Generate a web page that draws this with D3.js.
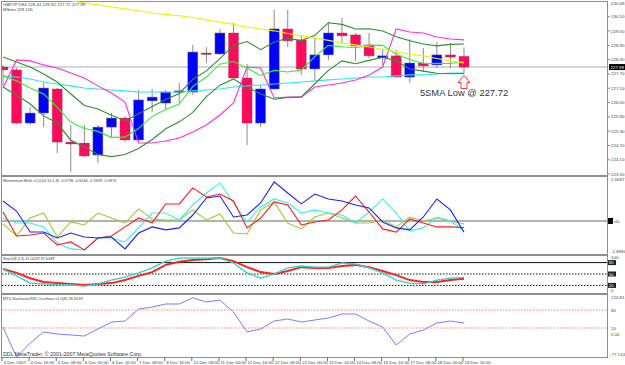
<!DOCTYPE html>
<html>
<head>
<meta charset="utf-8">
<script src="https://cdnjs.cloudflare.com/ajax/libs/d3/7.8.5/d3.min.js"></script>
<style>
body { margin: 0; background: #fff; }
svg { display: block; }
text { font-family: "Liberation Sans", Arial, sans-serif; }
</style>
</head>
<body>
<svg></svg>
<script>
// GBPJPY H4 candles
var open  = [227.99,227.87,225.64,226.06,227.07,224.84,224.80,224.30,225.47,225.85,224.93,226.57,226.48,226.94,226.94,228.58,228.54,229.42,227.53,225.64,227.07,229.59,229.13,227.91,228.50,229.42,229.34,228.92,228.37,228.46,227.57,228.16,228.08,228.50,228.44];
var high  = [228.08,227.95,226.31,227.36,227.11,225.56,225.56,225.56,226.06,225.94,227.03,227.07,227.03,227.32,228.92,228.83,229.59,229.84,228.12,227.24,230.39,230.39,229.34,229.25,229.88,230.05,229.42,229.42,228.71,228.71,229.17,228.79,229.04,229.00,228.82];
var low   = [227.20,225.60,225.56,225.47,224.38,223.58,224.21,223.96,225.01,224.84,224.84,226.10,226.19,226.48,226.82,228.16,228.50,227.49,224.72,225.47,227.03,228.83,227.66,227.45,228.29,229.00,228.25,228.37,228.08,227.53,227.32,227.78,227.95,227.95,227.72];
var close = [227.87,225.64,226.06,227.11,224.84,224.76,224.26,225.47,225.85,224.93,226.61,226.73,226.94,226.99,228.62,228.56,229.42,227.53,225.64,227.07,229.59,229.09,227.91,228.50,229.42,229.30,228.88,228.46,228.46,227.57,228.16,228.04,228.50,228.41,227.99];

// overlay lines on the price pane
var smaHigh  = [228.41,228.20,227.99,227.70,227.36,226.86,226.38,226.23,225.97,225.74,226.03,226.33,226.63,226.88,227.47,227.83,228.34,228.90,229.06,228.72,229.04,229.20,229.10,229.32,229.85,229.78,229.59,229.60,229.50,229.26,229.09,228.96,228.88,228.94,228.96];
var smaClose = [227.62,227.41,227.11,226.86,226.30,225.68,225.41,225.29,225.04,225.05,225.42,225.92,226.21,226.44,227.18,227.57,228.11,228.22,227.95,227.64,227.85,227.78,227.86,228.43,228.90,228.84,228.80,228.91,228.90,228.53,228.31,228.14,228.15,228.14,228.22];
var smaLow   = [227.15,226.82,226.44,225.94,225.64,224.92,224.64,224.32,224.23,224.32,224.57,224.95,225.40,225.69,226.09,226.75,227.23,227.49,227.14,226.87,226.64,226.71,226.74,227.29,227.85,228.25,228.13,228.27,228.40,228.25,227.91,227.82,227.73,227.71,227.72];
var magentaLine = [227.11,228.29,228.25,228.08,227.95,227.74,227.53,227.20,226.90,226.52,224.80,224.80,224.89,225.01,225.26,225.56,225.98,226.48,227.99,227.95,226.69,226.73,226.73,227.15,227.24,227.32,227.45,227.66,227.99,229.59,229.46,229.42,229.25,229.17,229.13];
var cyanLine = [227.62,227.57,227.49,227.36,227.28,227.20,227.11,227.07,227.03,226.99,226.94,226.94,226.94,226.94,226.99,227.03,227.07,227.15,227.20,227.24,227.28,227.32,227.36,227.41,227.45,227.49,227.53,227.57,227.57,227.62,227.66,227.66,227.70,227.74,227.74];
var yellowLine = [null,null,null,null,null,230.77,230.68,230.60,230.51,230.43,230.35,230.26,230.20,230.14,230.07,229.97,229.88,229.78,229.67,229.59,229.51,229.40,229.30,229.21,229.11,229.00,228.92,228.83,228.73,228.62,228.54,228.46,228.35,228.25,228.16];

// Momentum-Multi pane
var momBlue   = [1.21,0.60,-0.67,-0.67,-1.03,-0.73,-0.97,-1.03,-0.97,-1.69,-0.73,-0.36,-0.54,-0.42,0.36,1.39,1.51,0.24,0.36,1.09,2.36,1.69,1.03,1.63,1.33,1.21,0.97,0.79,-0.06,-0.42,-0.54,0.24,1.33,0.67,-0.68];
var momRed    = [0.54,-0.91,-0.85,-0.73,-1.45,-1.27,-1.75,-1.03,-0.91,-0.36,0.18,-0.12,1.03,1.03,2.00,1.45,1.63,1.21,-0.42,0.18,1.15,0.97,-0.24,-0.06,0.06,0.67,1.51,0.54,-0.48,-0.67,0.12,-0.12,-0.36,-0.36,-0.40];
var momCyan   = [0.18,-0.12,-0.12,-0.36,-1.33,-1.69,-1.75,-1.03,-1.03,-1.27,-0.42,0.48,0.48,0.06,0.97,1.69,2.30,1.09,-0.06,0.85,1.33,1.09,0.48,0.67,0.48,0.36,-0.12,0.54,1.33,0.48,-0.60,-0.42,0.24,0.00,-0.60];
var momYellow = [-0.18,-0.91,0.18,0.48,-0.97,-0.06,-0.24,0.48,0.18,-0.12,0.73,0.12,0.06,0.06,0.67,0.06,0.42,-0.73,-0.79,0.67,1.15,-0.12,-0.48,0.24,0.48,0.18,-0.12,-0.12,0.06,-0.36,0.24,0.00,0.18,0.00,-0.18];

// Stoch(8,3,3)
var stochMain   = [63,45,26,24,22,21,18,24,34,42,53,66,84,92,92,92,92,79,53,39,50,66,71,68,68,79,76,66,53,34,26,24,34,39,41.00];
var stochSignal = [63,53,39,29,26,24,21,24,26,34,45,55,74,82,87,89,92,84,68,55,50,58,68,66,66,71,74,68,58,47,34,29,29,34,37.65];

// MT4-StochasticRSI-Oscillator
var stochRsi = [23.3,-77.12,-30.0,6.7,0.0,-3.3,-6.7,16.7,40.0,43.3,83.3,90.0,100.0,100.0,120.81,106.7,113.3,73.3,6.7,16.7,43.3,50.0,40.0,46.7,53.3,66.7,66.7,43.3,23.3,-36.7,0.0,13.3,36.7,43.3,36.81];

// axis labels
var priceTicks = [230.10,229.50,228.90,228.30,227.70,227.10,226.50,225.90,225.30,224.70,224.10,223.50];
var timeLabels = ["4 Dec 2007","4 Dec 16:00","5 Dec 08:00","6 Dec 00:00","6 Dec 16:00","7 Dec 08:00","9 Dec 16:00","10 Dec 08:00","11 Dec 00:00","11 Dec 16:00","12 Dec 08:00","13 Dec 00:00","13 Dec 16:00","14 Dec 08:00","16 Dec 16:00","17 Dec 08:00","18 Dec 00:00","18 Dec 16:00"];

var svg = d3.select("svg").attr("width", 625).attr("height", 365);

var left = 2, right = 607;
var x = d3.scaleLinear().domain([0, close.length - 1]).range([3, 464]);
var yMain = d3.scaleLinear().domain([223.46, 230.72]).range([175, 2]);
var yMom = d3.scaleLinear().domain([-1.9984, 2.6587]).range([254, 177]);
var ySto = d3.scaleLinear().domain([0, 100]).range([293, 255]);
var yRsi = d3.scaleLinear().domain([0, 80]).range([334, 310]);

var panes = [
    {id: "main", top: 1, bottom: 175.5},
    {id: "mom", top: 176.5, bottom: 254.5},
    {id: "sto", top: 255.5, bottom: 293.5},
    {id: "rsi", top: 294.5, bottom: 357.5}
];

var defs = svg.append("defs");
panes.forEach(function(p) {
    defs.append("clipPath").attr("id", "clip-" + p.id)
        .append("rect")
        .attr("x", left).attr("y", p.top)
        .attr("width", right - left).attr("height", p.bottom - p.top);
});

// pane frames
svg.selectAll("rect.frame")
    .data(panes)
    .enter()
    .append("rect")
    .attr("class", "frame")
    .attr("x", 1.5)
    .attr("y", function(p) { return p.top; })
    .attr("width", right - 1.5)
    .attr("height", function(p) { return p.bottom - p.top; })
    .attr("fill", "none")
    .attr("stroke", "#8e8e8e")
    .attr("stroke-width", 1)
    .attr("shape-rendering", "crispEdges");

function lineOf(yScale) {
    return d3.line()
        .defined(function(d) { return d != null; })
        .x(function(d, i) { return x(i); })
        .y(function(d) { return yScale(d); });
}

// ---------- price pane ----------
var gMain = svg.append("g").attr("clip-path", "url(#clip-main)");

gMain.append("line")
    .attr("x1", left).attr("x2", right)
    .attr("y1", yMain(close[close.length - 1]))
    .attr("y2", yMain(close[close.length - 1]))
    .attr("stroke", "#d6d6d6")
    .attr("stroke-width", 2);

var candles = gMain.selectAll("g.candle")
    .data(close)
    .enter()
    .append("g")
    .attr("class", "candle");

candles.append("line")
    .attr("x1", function(d, i) { return x(i); })
    .attr("x2", function(d, i) { return x(i); })
    .attr("y1", function(d, i) { return yMain(high[i]); })
    .attr("y2", function(d, i) { return yMain(low[i]); })
    .attr("stroke", "#8a8a8a")
    .attr("stroke-width", 1);

candles.append("rect")
    .attr("x", function(d, i) { return x(i) - 5; })
    .attr("y", function(d, i) { return yMain(Math.max(open[i], close[i])); })
    .attr("width", 10)
    .attr("height", function(d, i) {
        return Math.max(1.5, Math.abs(yMain(open[i]) - yMain(close[i])));
    })
    .attr("fill", function(d, i) { return close[i] >= open[i] ? "#0000ff" : "#ff0a5c"; })
    .attr("stroke", function(d, i) { return close[i] >= open[i] ? "#7a7a7a" : "#6a2a3a"; })
    .attr("stroke-dasharray", function(d, i) { return close[i] >= open[i] ? null : "1,1"; })
    .attr("stroke-width", 0.5);

var mainLines = [
    {data: cyanLine, color: "#2ee8ee"},
    {data: magentaLine, color: "#ff2ee8"},
    {data: smaLow, color: "#2f8f2f"},
    {data: smaHigh, color: "#2f8f2f"},
    {data: smaClose, color: "#33ee33"},
    {data: yellowLine, color: "#f2f200"}
];
gMain.selectAll("path.ma")
    .data(mainLines)
    .enter()
    .append("path")
    .attr("class", "ma")
    .attr("d", function(d) { return lineOf(yMain)(d.data); })
    .attr("fill", "none")
    .attr("stroke", function(d) { return d.color; })
    .attr("stroke-width", 1.1);

// annotation arrow + text
var ax = x(close.length - 1), ay = yMain(smaLow[smaLow.length - 1]) + 2;
svg.append("path")
    .attr("d", "M" + ax + "," + ay + " l6,7 h-3 v6 h-6 v-6 h-3 z")
    .attr("fill", "#fff")
    .attr("stroke", "#ff3b3b")
    .attr("stroke-width", 1);
svg.append("text")
    .attr("x", ax)
    .attr("y", ay + 20.5)
    .attr("text-anchor", "middle")
    .attr("font-size", "9.4px")
    .attr("fill", "#333")
    .text("5SMA Low @ 227.72");

// header texts
svg.append("text").attr("x", 3).attr("y", 6).attr("font-size", "4.4px").attr("fill", "#444")
    .text("GBPJPY,H4 228.44 228.82 227.72 227.99");
svg.append("text").attr("x", 3).attr("y", 10.5).attr("font-size", "4.4px").attr("fill", "#444")
    .text("MSma 228.155");

// right axis of price pane
var axisG = svg.append("g").attr("font-size", "4.4px").attr("fill", "#444");
axisG.selectAll("text.pt")
    .data(priceTicks)
    .enter()
    .append("text")
    .attr("class", "pt")
    .attr("x", 611)
    .attr("y", function(d) { return yMain(d) + 1.5; })
    .text(function(d) { return d.toFixed(2); });
axisG.selectAll("line.pt")
    .data(priceTicks)
    .enter()
    .append("line")
    .attr("class", "pt")
    .attr("x1", right).attr("x2", 610)
    .attr("y1", function(d) { return yMain(d); })
    .attr("y2", function(d) { return yMain(d); })
    .attr("stroke", "#888");
axisG.append("text").attr("x", 611).attr("y", 4.5).text("230.68");

var last = close[close.length - 1];
svg.append("rect")
    .attr("x", 609).attr("y", yMain(last) - 3)
    .attr("width", 16).attr("height", 6)
    .attr("fill", "#000");
svg.append("text")
    .attr("x", 610.5).attr("y", yMain(last) + 1.6)
    .attr("font-size", "4.4px").attr("fill", "#fff")
    .text(last.toFixed(2));

// ---------- momentum pane ----------
var gMom = svg.append("g").attr("clip-path", "url(#clip-mom)");
gMom.append("line")
    .attr("x1", left).attr("x2", right)
    .attr("y1", yMom(0)).attr("y2", yMom(0))
    .attr("stroke", "#b3b3b3").attr("stroke-width", 2);

var momLines = [
    {data: momYellow, color: "#9acd32"},
    {data: momCyan, color: "#33f0f0"},
    {data: momRed, color: "#ff1a1a"},
    {data: momBlue, color: "#1e1eff"}
];
gMom.selectAll("path.mom")
    .data(momLines)
    .enter()
    .append("path")
    .attr("class", "mom")
    .attr("d", function(d) { return lineOf(yMom)(d.data); })
    .attr("fill", "none")
    .attr("stroke", function(d) { return d.color; })
    .attr("stroke-width", 1.1);

svg.append("text").attr("x", 3).attr("y", 182).attr("font-size", "3.9px").attr("fill", "#444")
    .text("Momentum-Multi v1.0(14,10,1,8) -0.6796 -0.6046 -0.1839 -0.3976");
svg.append("text").attr("x", 611).attr("y", 181).attr("font-size", "4.4px").attr("fill", "#444").text("2.6587");
svg.append("text").attr("x", 611).attr("y", 252.5).attr("font-size", "4.4px").attr("fill", "#444").text("-1.9984");
svg.append("rect").attr("x", 608).attr("y", yMom(0) - 3).attr("width", 5).attr("height", 6).attr("fill", "#000");
svg.append("text").attr("x", 611).attr("y", yMom(0) + 1.6).attr("font-size", "4.4px").attr("fill", "#444").text("0.00");

// ---------- stochastic pane ----------
var gSto = svg.append("g").attr("clip-path", "url(#clip-sto)");
[80, 50, 20].forEach(function(lv, k) {
    gSto.append("line")
        .attr("x1", left).attr("x2", right)
        .attr("y1", ySto(lv)).attr("y2", ySto(lv))
        .attr("stroke", "#111")
        .attr("stroke-width", 1)
        .attr("stroke-dasharray", k === 0 ? null : "1.5,1.5");
    svg.append("rect").attr("x", 608).attr("y", ySto(lv) - 2.5)
        .attr("width", 8).attr("height", 5).attr("fill", "#222");
    svg.append("text").attr("x", 609).attr("y", ySto(lv) + 1.5)
        .attr("font-size", "4px").attr("fill", "#fff").text(lv);
});
gSto.append("path")
    .attr("d", lineOf(ySto)(stochSignal))
    .attr("fill", "none").attr("stroke", "#ff2020").attr("stroke-width", 2);
gSto.append("path")
    .attr("d", lineOf(ySto)(stochMain))
    .attr("fill", "none").attr("stroke", "#2ee6e6").attr("stroke-width", 1.3);
gSto.append("path")
    .attr("d", lineOf(ySto)(stochMain))
    .attr("fill", "none").attr("stroke", "#2e9d55").attr("stroke-width", 0.8)
    .attr("stroke-dasharray", "1,2");

svg.append("text").attr("x", 3).attr("y", 260).attr("font-size", "3.9px").attr("fill", "#444")
    .text("Stoch(8,3,3) 41.0029 37.6489");
svg.append("text").attr("x", 611).attr("y", 259).attr("font-size", "4.4px").attr("fill", "#444").text("100");
svg.append("text").attr("x", 611).attr("y", 292).attr("font-size", "4.4px").attr("fill", "#444").text("0");

// ---------- stochastic RSI pane ----------
var gRsi = svg.append("g").attr("clip-path", "url(#clip-rsi)");
[80, 20].forEach(function(lv) {
    gRsi.append("line")
        .attr("x1", left).attr("x2", right)
        .attr("y1", yRsi(lv)).attr("y2", yRsi(lv))
        .attr("stroke", "#ff5a5a")
        .attr("stroke-width", 0.8)
        .attr("stroke-dasharray", "1.5,1.5");
});
gRsi.append("path")
    .attr("d", lineOf(yRsi)(stochRsi))
    .attr("fill", "none").attr("stroke", "#7c7cff").attr("stroke-width", 1);

svg.append("text").attr("x", 3).attr("y", 300).attr("font-size", "3.9px").attr("fill", "#444")
    .text("MT4-StochasticRSI-Oscillator-v1.0(8) 36.8139");
var rsiLabels = [{v: 120.81, t: "120.81"}, {v: 80, t: "80"}, {v: 20, t: "20"}, {v: 0, t: "0.00"}];
svg.selectAll("text.rsil")
    .data(rsiLabels)
    .enter()
    .append("text")
    .attr("class", "rsil")
    .attr("x", 611)
    .attr("y", function(d) { return yRsi(d.v) + 1.5; })
    .attr("font-size", "4.4px").attr("fill", "#444")
    .text(function(d) { return d.t; });
svg.append("text").attr("x", 610).attr("y", 355.5).attr("font-size", "4.4px").attr("fill", "#444").text("-77.124");

svg.append("text").attr("x", 3).attr("y", 355.5).attr("font-size", "5.3px").attr("fill", "#333")
    .text("DDL MetaTrader, \u00a9 2001-2007 MetaQuotes Software Corp.");

// ---------- time axis ----------
var tg = svg.selectAll("g.tl")
    .data(timeLabels)
    .enter()
    .append("g")
    .attr("class", "tl");
tg.append("line")
    .attr("x1", function(d, k) { return x(k * 2) - 1; })
    .attr("x2", function(d, k) { return x(k * 2) - 1; })
    .attr("y1", 357.5).attr("y2", 361)
    .attr("stroke", "#666");
tg.append("text")
    .attr("x", function(d, k) { return x(k * 2) + 0.5; })
    .attr("y", 363.5)
    .attr("font-size", "4.4px")
    .attr("fill", "#444")
    .text(function(d) { return d; });
</script>
</body>
</html>
